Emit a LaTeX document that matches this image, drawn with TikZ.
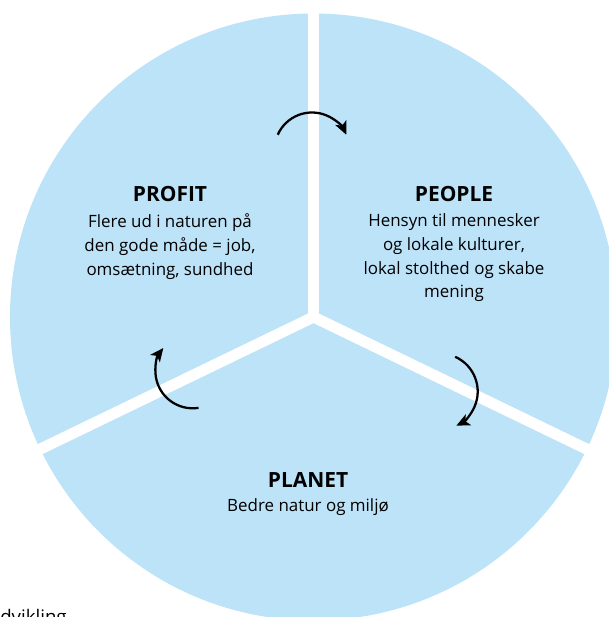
\documentclass[tikz,border=0pt]{standalone}
\usepackage{fontspec}
\setmainfont{Open Sans}
\usetikzlibrary{positioning}
\usetikzlibrary{arrows.meta}
\definecolor{pieblue}{RGB}{189,227,249}

\begin{document}
\begin{tikzpicture}[x=0.75pt, y=0.75pt, every node/.style={inner sep=0pt, align=center}]

		\useasboundingbox (-313.5,-300) rectangle (295.5,317);
		\coordinate (O) at (0,0);
		\fill[pieblue] (O) circle (303.5);

		% white gaps between the three parts
		\foreach \ang in {90,205.8,-25.8}{\draw[white, line width=8.25pt] (O) -- (\ang:330);}

		\tikzset{turn/.style={-{Stealth[length=10pt,width=9pt,inset=2.5pt]}, line width=1.7pt}}
		\coordinate (topTurn) at (-1.5,167);
		\coordinate (rightTurn) at (126.2,-74.5);
		\coordinate (leftTurn) at (-120.8,-54);
		\draw[turn] (topTurn) ++(156:37.5) arc[start angle=156, end angle=24, radius=37.5];
		\draw[turn] (rightTurn) ++(66:38) arc[start angle=66, end angle=-64, radius=38];
		\draw[turn] (leftTurn) ++(-81:37.3) arc[start angle=-81, end angle=-218, radius=37.3];

		\tikzset{head/.style={font=\fontsize{15.7}{18}\selectfont\bfseries}, body/.style={font=\fontsize{12.7}{17.8}\selectfont}}
		\node[head, anchor=base] (profit) at (-143.5,115) {PROFIT};
		\node[body, below=8.3pt of profit] (profitText) {Flere ud i naturen på\\den gode måde = job,\\omsætning, sundhed};
		\node[head, anchor=base] (people) at (140.5,115) {PEOPLE};
		\node[body, below=8.3pt of people] (peopleText) {Hensyn til mennesker\\og lokale kulturer,\\lokal stolthed og skabe\\mening};
		\node[head, anchor=base] (planet) at (-5.5,-170.4) {PLANET};
		\node[body, below=8.3pt of planet] (planetText) {Bedre natur og miljø};

		\node[font=\fontsize{14}{16}\selectfont, anchor=base west] (caption) at (-313.5,-306) {dvikling};
	\end{tikzpicture}
\end{document}
